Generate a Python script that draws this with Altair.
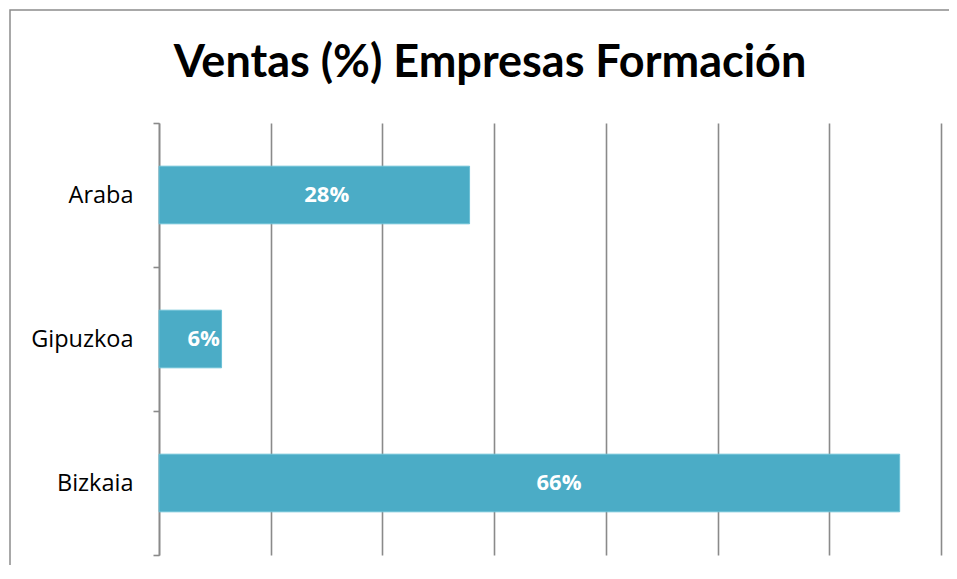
import altair as alt
import pandas as pd

regions = ["Araba", "Gipuzkoa", "Bizkaia"]
shares = [0.278, 0.056, 0.663]
labels = ["28%", "6%", "66%"]
title_text = "Ventas (%) Empresas Formación"
grid_values = [0, 0.1, 0.2, 0.3, 0.4, 0.5, 0.6, 0.7]

df = pd.DataFrame({"region": regions, "share": shares, "label": labels})
df["label_pos"] = [v * 0.54 if v > 0.1 else v - 0.016 for v in shares]

x_scale = alt.Scale(domain=[0, 0.7], nice=False, zero=True)
y_scale = alt.Scale(domain=regions, paddingInner=0, paddingOuter=0)

base = alt.Chart(df)

bars = base.mark_bar(color="#4BACC6", stroke="#6cc0d6", strokeWidth=1,
                     height=alt.RelativeBandSize(0.4)).encode(
    x=alt.X("share:Q", scale=x_scale,
            axis=alt.Axis(values=grid_values, grid=True, labels=False, ticks=False,
                          domain=False, title=None, gridColor="#8a8a8a", gridWidth=1.6)),
    y=alt.Y("region:N", scale=y_scale, sort=regions,
            axis=alt.Axis(title=None, domainColor="#8a8a8a", domainWidth=1.6,
                          tickColor="#8a8a8a", tickWidth=1.6, tickSize=6, tickBand="extent",
                          labelFont="Open Sans", labelFontSize=23.5, labelColor="black",
                          labelPadding=20, grid=False)),
)

texts = base.mark_text(font="Open Sans", fontWeight="bold", fontSize=22, color="white",
                       align="center", baseline="middle").encode(
    x=alt.X("label_pos:Q", scale=x_scale),
    y=alt.Y("region:N", scale=y_scale, sort=regions),
    text="label:N",
)

title = alt.Chart(pd.DataFrame({"t": [title_text]})).mark_text(
    font="Lato", fontWeight="bold", fontSize=45, color="black",
    align="center", baseline="alphabetic").encode(
    x=alt.value(331), y=alt.value(-46), text="t:N")

border = alt.Chart(pd.DataFrame({"a": [0]})).mark_rect(
    fill="transparent", stroke="#8c8c8c", strokeWidth=1.5).encode(
    x=alt.value(-149), x2=alt.value(800), y=alt.value(-113), y2=alt.value(600))

chart = alt.layer(border, bars, texts, title).properties(
    width=782, height=432,
    autosize=alt.AutoSizeParams(type="none"),
    padding={"left": 151, "top": 115, "right": 8, "bottom": 10},
).configure_view(strokeWidth=0)

chart.save("out.html", embed_options={"renderer": "svg", "actions": False})
